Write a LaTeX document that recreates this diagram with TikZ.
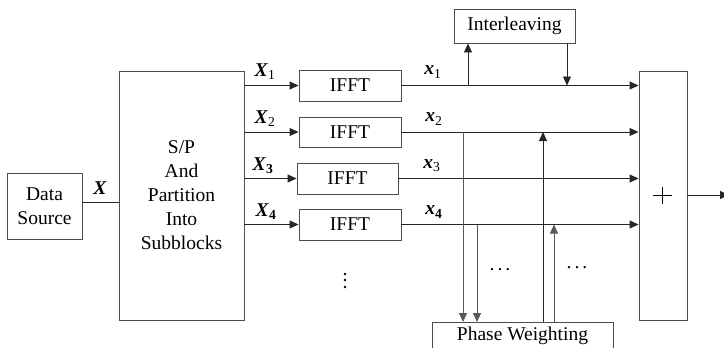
\documentclass[tikz,border=0pt]{standalone}
\usepackage{fontspec}
\setmainfont{Liberation Serif}
\usetikzlibrary{arrows.meta}
\begin{document}
\begin{tikzpicture}[x=1pt,y=-1pt,
  font=\fontsize{19.5}{24}\selectfont,
  blk/.style={draw=black!70, line width=0.9pt, inner sep=0pt, align=center},
  ln/.style={draw=black!85, line width=0.9pt},
  arr/.style={ln, -{Triangle[length=9pt,width=8pt]}},
  lbl/.style={inner sep=0pt},
  vdot/.style={fill=black, circle, inner sep=0pt, minimum size=2.6pt}
]
\useasboundingbox (0,0) rectangle (724,348);
% blocks
\node[blk, minimum width=75pt, minimum height=66pt] (ds) at (44.5,206) {Data\\Source};
\node[blk, minimum width=125pt, minimum height=249pt] (sp) at (181.5,195.5) {S/P\\And\\Partition\\Into\\Subblocks};
\node[blk, minimum width=102pt, minimum height=31pt] (f1) at (350,85.5) {IFFT};
\node[blk, minimum width=102pt, minimum height=30pt] (f2) at (350,132) {IFFT};
\node[blk, minimum width=101pt, minimum height=31pt] (f3) at (347.5,178.5) {IFFT};
\node[blk, minimum width=102pt, minimum height=31pt] (f4) at (350,224.5) {IFFT};
\node[blk, minimum width=48pt, minimum height=249pt] (pl) at (663,195.5) {};
\node[blk, minimum width=121pt, minimum height=34pt] (il) at (514.5,26) {Interleaving};
\node[blk, minimum width=181pt, minimum height=30pt, anchor=north west] (pw) at (432,322) {};
\node[lbl] (pwt) at (522.5,336) {Phase Weighting};
% plus sign
\coordinate (pc) at (662.5,195);
\draw[line width=1pt] ([xshift=-9.5pt]pc) -- ([xshift=9.5pt]pc);
\draw[line width=1pt] ([yshift=-8.5pt]pc) -- ([yshift=8.5pt]pc);
% input
\draw[ln] (ds.east |- 0,202) -- (sp.west |- 0,202);
\node[lbl] (xl) at (100,188) {\textbf{\textit{X}}};
% S/P to IFFT
\draw[arr] (sp.east |- f1.west) -- (f1.west);
\draw[arr] (sp.east |- f2.west) -- (f2.west);
\draw[arr] (sp.east |- f3.west) -- (f3.west);
\draw[arr] (sp.east |- f4.west) -- (f4.west);
\node[lbl] (X1) at (265,72) {\textbf{\textit{X}}\textsubscript{1}};
\node[lbl] (X2) at (265,119) {\textbf{\textit{X}}\textsubscript{2}};
\node[lbl] (X3) at (263,166) {\textbf{\textit{X}}\textsubscript{\textbf{3}}};
\node[lbl] (X4) at (266,212) {\textbf{\textit{X}}\textsubscript{\textbf{4}}};
% IFFT to sum
\draw[arr] (f1.east) -- (pl.west |- f1.east);
\draw[arr] (f2.east) -- (pl.west |- f2.east);
\draw[arr] (f3.east) -- (pl.west |- f3.east);
\draw[arr] (f4.east) -- (pl.west |- f4.east);
\node[lbl] (x1) at (433,72) {\textbf{\textit{x}}\textsubscript{1}};
\node[lbl] (x2) at (434,119) {\textbf{\textit{x}}\textsubscript{2}};
\node[lbl] (x3) at (432,166) {\textbf{\textit{x}}\textsubscript{3}};
\node[lbl] (x4) at (434,212) {\textbf{\textit{x}}\textsubscript{\textbf{4}}};
% interleaving
\coordinate (iu) at (468,85.5);
\coordinate (id) at (567,85.5);
\draw[arr] (iu) -- (il.south -| iu);
\draw[arr] (il.south -| id) -- (id);
% phase weighting
\coordinate (d1) at (463,132);
\coordinate (d2) at (477,224.5);
\coordinate (u1) at (543,132);
\coordinate (u2) at (554,224.5);
\draw[arr, draw=black!65] (d1) -- (pw.north -| d1);
\draw[arr, draw=black!65] (d2) -- (pw.north -| d2);
\draw[arr] (pw.north -| u1) -- (u1);
\draw[arr, draw=black!65] (pw.north -| u2) -- (u2);
\node[lbl] (dt1) at (500,270) {.\hspace{3pt}.\hspace{3pt}.};
\node[lbl] (dt2) at (577,268) {.\hspace{3pt}.\hspace{3pt}.};
% vertical dots
\node[vdot] (v1) at (345,274) {};
\node[vdot] (v2) at (345,280) {};
\node[vdot] (v3) at (345,287) {};
% output
\coordinate (out) at (729,195);
\draw[arr] (pl.east |- out) -- (out);
\end{tikzpicture}
\end{document}
